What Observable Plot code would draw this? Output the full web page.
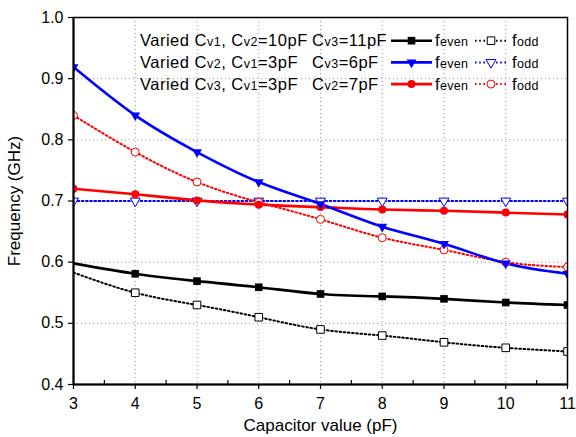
<!DOCTYPE html>
<html>
<head>
<meta charset="utf-8">
<script src="https://cdn.jsdelivr.net/npm/d3@7"></script>
<script src="https://cdn.jsdelivr.net/npm/@observablehq/plot@0.6"></script>
<style>
  body { margin: 0; background: #fff; }
  svg { font-family: "Liberation Sans", Arial, sans-serif; }
</style>
</head>
<body>
<div id="chart"></div>
<script>
const caps = [3, 4, 5, 6, 7, 8, 9, 10, 11];
const xTicks = [3, 4, 5, 6, 7, 8, 9, 10, 11];
const yTicks = [0.4, 0.5, 0.6, 0.7, 0.8, 0.9, 1.0];
const evenCv1 = [0.598, 0.581, 0.569, 0.559, 0.548, 0.544, 0.540, 0.534, 0.530];
const oddCv1  = [0.583, 0.550, 0.530, 0.510, 0.490, 0.480, 0.469, 0.460, 0.454];
const evenCv2 = [0.919, 0.840, 0.780, 0.731, 0.695, 0.658, 0.630, 0.598, 0.581];
const oddCv2  = [0.700, 0.700, 0.700, 0.700, 0.700, 0.700, 0.700, 0.700, 0.700];
const evenCv3 = [0.720, 0.711, 0.701, 0.694, 0.690, 0.686, 0.684, 0.681, 0.678];
const oddCv3  = [0.840, 0.780, 0.731, 0.698, 0.670, 0.640, 0.620, 0.600, 0.592];
const legendRows = [
  ["Varied C", "v1", ", C", "v2", "=10pF"],
  ["Varied C", "v2", ", C", "v1", "=3pF"],
  ["Varied C", "v3", ", C", "v1", "=3pF"]
];
const legendTails = [["C", "v3", "=11pF"], ["C", "v3", "=6pF"], ["C", "v2", "=7pF"]];

const rows = arr => caps.map((c, i) => ({cap: c, f: arr[i]}));
const s1e = rows(evenCv1), s1o = rows(oddCv1);
const s2e = rows(evenCv2), s2o = rows(oddCv2);
const s3e = rows(evenCv3), s3o = rows(oddCv3);

const BLUE = "#0000ff", RED = "#ff0000", BLACK = "#000000";
const dotted = {strokeWidth: 2, strokeDasharray: "1.6,2.6", curve: "natural"};
const solid = {strokeWidth: 2.6, curve: "natural"};

const plot = Plot.plot({
  width: 576,
  height: 437,
  marginLeft: 73,
  marginRight: 9,
  marginTop: 17,
  marginBottom: 53,
  style: {fontFamily: "Liberation Sans, Arial, sans-serif", fontSize: "16px", background: "#fff"},
  x: {domain: [3, 11]},
  y: {domain: [0.4, 1.0]},
  marks: [
    Plot.gridX(xTicks.slice(1, -1), {stroke: "#999", strokeOpacity: 1, strokeDasharray: "1,3"}),
    Plot.gridY(yTicks.slice(1, -1), {stroke: "#999", strokeOpacity: 1, strokeDasharray: "1,3"}),
    Plot.line(s1o, {x: "cap", y: "f", stroke: BLACK, ...dotted, clip: true}),
    Plot.line(s2o, {x: "cap", y: "f", stroke: BLUE, ...dotted, clip: true}),
    Plot.line(s3o, {x: "cap", y: "f", stroke: RED, ...dotted, clip: true}),
    Plot.line(s1e, {x: "cap", y: "f", stroke: BLACK, ...solid, clip: true}),
    Plot.line(s3e, {x: "cap", y: "f", stroke: RED, ...solid, clip: true}),
    Plot.line(s2e, {x: "cap", y: "f", stroke: BLUE, ...solid, clip: true}),
    Plot.dot(s1o.slice(1), {x: "cap", y: "f", symbol: "square", r: 4.3, fill: "white", stroke: BLACK, strokeWidth: 1, clip: true}),
    Plot.dot(s2o, {x: "cap", y: "f", symbol: "triangle", rotate: 180, r: 3.7, fill: "white", stroke: BLUE, strokeWidth: 1, clip: true}),
    Plot.dot(s3o, {x: "cap", y: "f", symbol: "circle", r: 4, fill: "white", stroke: RED, strokeWidth: 1, clip: true}),
    Plot.dot(s1e.slice(1), {x: "cap", y: "f", symbol: "square", r: 4.3, fill: BLACK, clip: true}),
    Plot.dot(s3e, {x: "cap", y: "f", symbol: "circle", r: 4, fill: RED, clip: true}),
    Plot.dot(s2e, {x: "cap", y: "f", symbol: "triangle", rotate: 180, r: 3.7, fill: BLUE, clip: true}),
    Plot.frame({stroke: BLACK, strokeWidth: 1.5}),
    Plot.ruleY([0.4], {stroke: BLACK, strokeWidth: 2}),
    Plot.ruleX([3], {stroke: BLACK, strokeWidth: 2}),
    Plot.axisX(d3.range(3.5, 11, 1), {tickSize: -4, tickFormat: () => "", strokeWidth: 1.2, label: null}),
    Plot.axisX(xTicks, {tickSize: 5, tickPadding: 8, tickFormat: d => String(d), fontSize: 16, strokeWidth: 1.2,
      label: null}),
    Plot.axisX(xTicks, {tickSize: 0, tickFormat: () => "", fontSize: 17,
      label: "Capacitor value (pF)", labelAnchor: "center", labelArrow: "none", labelOffset: 46}),
    Plot.axisY(yTicks, {tickSize: 5, tickPadding: 5, tickFormat: d3.format(".1f"), fontSize: 16, strokeWidth: 1.2,
      label: null}),
    Plot.axisY(yTicks, {tickSize: 0, tickFormat: () => "", fontSize: 17,
      label: "Frequency (GHz)", labelAnchor: "center", labelArrow: "none", labelOffset: 66})
  ]
});

document.getElementById("chart").appendChild(plot);

// Legend (inside plot, upper area)
const svg = d3.select(plot);
const lg = svg.append("g")
  .attr("font-family", "Liberation Sans, Arial, sans-serif")
  .attr("text-anchor", "start")
  .attr("fill", "black");
const rowY = [46.3, 68, 89.7];
const tailX = 312;
const colors = [BLACK, BLUE, RED];
const markers = [
  {sym: d3.symbolSquare, size: 58, rot: 0},
  {sym: d3.symbolTriangle, size: 43, rot: 180},
  {sym: d3.symbolCircle, size: 50, rot: 0}
];
const MAIN = 16.5, SUB = 12.5;
const addRich = (x, y, parts, ls = 0.5) => {
  const t = lg.append("text").attr("x", x).attr("y", y).attr("font-size", MAIN).attr("letter-spacing", ls);
  parts.forEach((p, i) => {
    const ts = t.append("tspan").text(p);
    if (i % 2 === 1) ts.attr("font-size", SUB);
  });
  return t;
};
legendRows.forEach((parts, i) => {
  const y = rowY[i];
  addRich(140, y, parts);
  addRich(tailX, y, legendTails[i]);
  const c = colors[i], m = markers[i], cy = y - 5.6;
  lg.append("line").attr("x1", 391).attr("x2", 432).attr("y1", cy).attr("y2", cy)
    .attr("stroke", c).attr("stroke-width", 2.6);
  lg.append("path").attr("d", d3.symbol(m.sym, m.size)())
    .attr("transform", `translate(411.5,${cy}) rotate(${m.rot})`).attr("fill", c);
  addRich(435, y, ["f", "even"], 0.3);
  lg.append("line").attr("x1", 475).attr("x2", 507).attr("y1", cy).attr("y2", cy)
    .attr("stroke", c).attr("stroke-width", 2).attr("stroke-dasharray", "1.6,2.6");
  lg.append("path").attr("d", d3.symbol(m.sym, m.size)())
    .attr("transform", `translate(491,${cy}) rotate(${m.rot})`)
    .attr("fill", "white").attr("stroke", c).attr("stroke-width", 1);
  addRich(512, y, ["f", "odd"], 0.3);
});
</script>
</body>
</html>
